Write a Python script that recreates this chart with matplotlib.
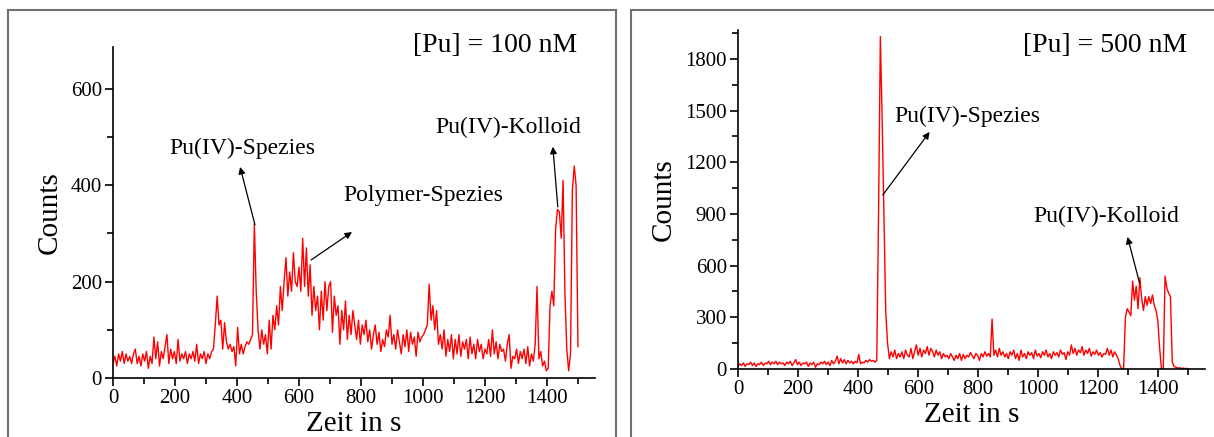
import numpy as np
import matplotlib.pyplot as plt
from matplotlib.patches import Rectangle

plt.rcParams["font.family"] = ["Liberation Serif", "DejaVu Serif"]

# time axis (s), sampled every 6 s
t = np.arange(0, 1501, 6)

# [Pu] = 100 nM
counts_100 = [
    30, 45, 25, 50, 35, 55, 30, 50, 35, 45, 30, 50, 60, 30, 45, 25, 50, 35, 55, 20,
    45, 30, 85, 40, 75, 25, 55, 40, 65, 90, 30, 60, 40, 55, 30, 80, 35, 50, 40, 55,
    30, 50, 40, 55, 35, 70, 30, 50, 40, 55, 30, 50, 40, 55, 60, 110, 170, 110, 120, 60,
    115, 75, 60, 70, 55, 65, 25, 105, 50, 70, 50, 65, 75, 70, 80, 90, 320, 180, 100, 60,
    100, 70, 90, 50, 120, 60, 130, 100, 150, 110, 190, 140, 200, 250, 170, 220, 180, 260, 200, 190,
    230, 180, 290, 190, 270, 170, 235, 130, 190, 140, 170, 100, 180, 120, 200, 140, 190, 200, 95, 170,
    130, 150, 70, 140, 100, 160, 80, 130, 90, 140, 110, 80, 120, 70, 110, 90, 120, 75, 100, 60,
    90, 110, 70, 95, 55, 80, 65, 100, 85, 130, 70, 90, 60, 100, 75, 50, 90, 65, 100, 55,
    95, 70, 85, 45, 95, 75, 85, 90, 100, 110, 195, 120, 150, 100, 140, 70, 90, 60, 100, 45,
    80, 55, 90, 40, 80, 50, 90, 45, 75, 60, 80, 40, 85, 50, 70, 40, 80, 55, 70, 40,
    60, 50, 80, 45, 100, 50, 75, 40, 70, 55, 60, 35, 70, 90, 20, 45, 40, 60, 30, 55,
    40, 60, 30, 65, 25, 50, 35, 70, 190, 40, 55, 25, 35, 15, 20, 150, 180, 150, 310, 350,
    345, 290, 410, 175, 60, 15, 50, 390, 440, 400, 65,
]

# [Pu] = 500 nM
counts_500 = [
    15, 30, 20, 35, 15, 30, 25, 40, 20, 35, 15, 30, 25, 40, 20, 35, 30, 45, 25, 40,
    30, 45, 25, 40, 30, 35, 20, 40, 30, 45, 20, 35, 55, 25, 40, 20, 35, 30, 40, 15,
    35, 25, 40, 10, 30, 25, 40, 30, 45, 25, 40, 20, 50, 30, 45, 75, 30, 60, 35, 55,
    30, 50, 35, 45, 30, 45, 35, 85, 30, 40, 35, 50, 40, 55, 45, 50, 40, 50, 900, 1930,
    1450, 900, 330, 150, 60, 100, 70, 110, 60, 90, 70, 100, 60, 110, 80, 70, 120, 60, 100, 140,
    80, 120, 70, 110, 90, 130, 80, 120, 100, 70, 110, 80, 100, 60, 90, 70, 80, 60, 90, 70,
    50, 80, 60, 90, 50, 85, 60, 80, 70, 95, 75, 60, 90, 80, 50, 90, 70, 100, 75, 90,
    70, 290, 80, 110, 70, 120, 80, 100, 70, 90, 60, 100, 80, 110, 60, 90, 50, 110, 70, 90,
    60, 100, 80, 95, 60, 110, 75, 90, 65, 100, 80, 110, 70, 90, 60, 100, 80, 95, 70, 110,
    85, 95, 55, 100, 80, 140, 90, 120, 80, 110, 95, 130, 80, 110, 90, 120, 75, 100, 85, 110,
    80, 95, 70, 90, 85, 120, 80, 110, 70, 100, 80, 60, 20, 0, 5, 300, 350, 330, 310, 510,
    400, 480, 350, 530, 410, 340, 420, 370, 420, 380, 430, 370, 340, 280, 120, 0, 0, 540, 470, 440,
    420, 40, 15, 10, 5, 8, 3, 5, 2, 4, 0,
]

W, H = 1214, 437
fig = plt.figure(figsize=(W / 100, H / 100), dpi=100)

# panel frames
for x0, x1 in [(8, 616), (631, 1220)]:
    fig.patches.append(Rectangle((x0 / W, -0.1), (x1 - x0) / W, 1.1 - 10 / H,
                                 transform=fig.transFigure, fill=False,
                                 edgecolor="#707070", linewidth=1.5))

ax1 = fig.add_axes([113 / W, 1 - 378 / H, (595 - 113) / W, (378 - 47) / H])
ax2 = fig.add_axes([738 / W, 1 - 369 / H, (1205 - 738) / W, (369 - 30) / H])

for ax, y, ylim, ymaj, ymin in [(ax1, counts_100, 687, 200, 100),
                                (ax2, counts_500, 1968, 300, 150)]:
    ax.plot(t, y, color="red", lw=1.0)
    ax.set_xlim(0, 1555)
    ax.set_ylim(0, ylim)
    ax.set_xticks(np.arange(0, 1401, 200))
    ax.set_xticks(np.arange(100, 1501, 200), minor=True)
    ax.set_yticks(np.arange(0, ylim, ymaj))
    ax.set_yticks(np.arange(ymin, ylim, ymaj), minor=True)
    ax.spines[["top", "right"]].set_visible(False)
    ax.spines[["left", "bottom"]].set_linewidth(1.2)
    ax.tick_params(which="major", direction="out", length=6, width=1.2, labelsize=15, pad=2)
    ax.tick_params(which="minor", direction="out", length=4, width=1.2)
    ax.set_xlabel("Zeit in s", fontsize=21, labelpad=2)
    ax.set_ylabel("Counts", fontsize=21, labelpad=6)

arrow = dict(arrowstyle="-|>", color="black", lw=0.9, mutation_scale=10, shrinkA=0, shrinkB=0)

def note(ax, text, tip, tail, pos):
    ax.annotate("", xy=tip, xytext=tail, arrowprops=arrow)
    ax.text(*pos, text, fontsize=17, ha="center", va="center")

note(ax1, "Pu(IV)-Spezies", (410, 438), (458, 318), (416, 477))
note(ax1, "Polymer-Spezies", (771, 303), (639, 245), (1000, 378))
note(ax1, "Pu(IV)-Kolloid", (1419, 480), (1435, 355), (1274, 519))
note(ax2, "Pu(IV)-Spezies", (638, 1376), (482, 1010), (765, 1467))
note(ax2, "Pu(IV)-Kolloid", (1297, 767), (1337, 500), (1227, 888))

fig.text(495 / W, 1 - 45 / H, "[Pu] = 100 nM", fontsize=20, ha="center", va="center")
fig.text(1105 / W, 1 - 45 / H, "[Pu] = 500 nM", fontsize=20, ha="center", va="center")

fig.savefig("out.png", dpi=100)
